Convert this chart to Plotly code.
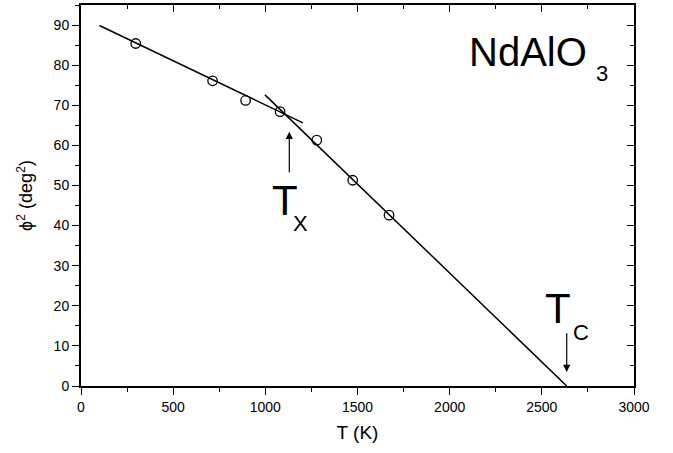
import plotly.graph_objects as go

# Data
T_points = [297, 714, 893, 1080, 1279, 1474, 1671]
phi2_points = [85.4, 76.1, 71.2, 68.4, 61.3, 51.3, 42.6]

fit1_T = [100, 1204]
fit1_phi2 = [89.9, 65.6]
fit2_T = [998, 2635]
fit2_phi2 = [72.6, 0.0]

x_ticks = [0, 500, 1000, 1500, 2000, 2500, 3000]
y_ticks = [0, 10, 20, 30, 40, 50, 60, 70, 80, 90]

FONT = "Liberation Sans, Arial, Helvetica, sans-serif"

fig = go.Figure()
fig.add_trace(go.Scatter(x=fit1_T, y=fit1_phi2, mode="lines",
                         line=dict(color="black", width=1.5), showlegend=False))
fig.add_trace(go.Scatter(x=fit2_T, y=fit2_phi2, mode="lines",
                         line=dict(color="black", width=1.5), showlegend=False))
fig.add_trace(go.Scatter(x=T_points, y=phi2_points, mode="markers",
                         marker=dict(symbol="circle-open", size=9.5,
                                     color="black", line=dict(width=1.3)),
                         showlegend=False))

axis_common = dict(showgrid=False, zeroline=False, showline=True,
                   linecolor="black", linewidth=2, ticks="outside",
                   ticklen=7, tickwidth=1.3, tickcolor="black",
                   tickfont=dict(family=FONT, size=14, color="black"))

fig.update_layout(
    width=673, height=453,
    margin=dict(l=81, r=39, t=5, b=67),
    plot_bgcolor="white", paper_bgcolor="white",
    font=dict(family=FONT, color="black"),
    xaxis=dict(range=[0, 3000], tickvals=x_ticks,
               minor=dict(dtick=250, ticklen=4, tickwidth=1.2, tickcolor="black", ticks="outside"),
               title=dict(text="T (K)", font=dict(family=FONT, size=19), standoff=12),
               **axis_common),
    yaxis=dict(range=[0, 95], tickvals=y_ticks,
               minor=dict(dtick=5, ticklen=4, tickwidth=1.2, tickcolor="black", ticks="outside"),
               title=dict(text="ϕ<sup>2</sup> (deg<sup>2</sup>)", font=dict(family=FONT, size=18), standoff=16),
               **axis_common),
    xaxis2=dict(range=[0, 3000], overlaying="x", side="top", showgrid=False,
                zeroline=False, showline=True, linecolor="black", linewidth=2,
                ticks="inside", ticklen=7, tickwidth=1.3, tickcolor="black",
                tickvals=x_ticks, showticklabels=False,
                minor=dict(dtick=250, ticklen=4, tickwidth=1.2, tickcolor="black", ticks="inside")),
    yaxis2=dict(range=[0, 95], overlaying="y", side="right", showgrid=False,
                zeroline=False, showline=True, linecolor="black", linewidth=2,
                ticks="inside", ticklen=7, tickwidth=1.3, tickcolor="black",
                tickvals=y_ticks, showticklabels=False,
                minor=dict(dtick=5, ticklen=4, tickwidth=1.2, tickcolor="black", ticks="inside")),
)
# dummy trace to activate secondary axes
fig.add_trace(go.Scatter(x=[None], y=[None], xaxis="x2", yaxis="y2", showlegend=False))

def label(text, x, y, size):
    fig.add_annotation(text=text, x=x, y=y, xref="x", yref="y", showarrow=False,
                       font=dict(family=FONT, size=size, color="black"),
                       xanchor="center", yanchor="middle")

label("NdAlO", 2425, 83.4, 40)
label("3", 2828, 77.8, 22)
label("T", 1109, 46.2, 42)
label("X", 1190, 40.6, 22)
label("T", 2585, 19.3, 42)
label("C", 2712, 13.3, 22)

# arrows
fig.add_annotation(x=1130, y=63.4, ax=1130, ay=52.9, xref="x", yref="y",
                   axref="x", ayref="y", showarrow=True, arrowhead=2,
                   arrowsize=1.2, arrowwidth=1.2, arrowcolor="black", text="")
fig.add_annotation(x=2635, y=3.5, ax=2635, ay=13.5, xref="x", yref="y",
                   axref="x", ayref="y", showarrow=True, arrowhead=2,
                   arrowsize=1.2, arrowwidth=1.2, arrowcolor="black", text="")

fig.write_html("out.html")
